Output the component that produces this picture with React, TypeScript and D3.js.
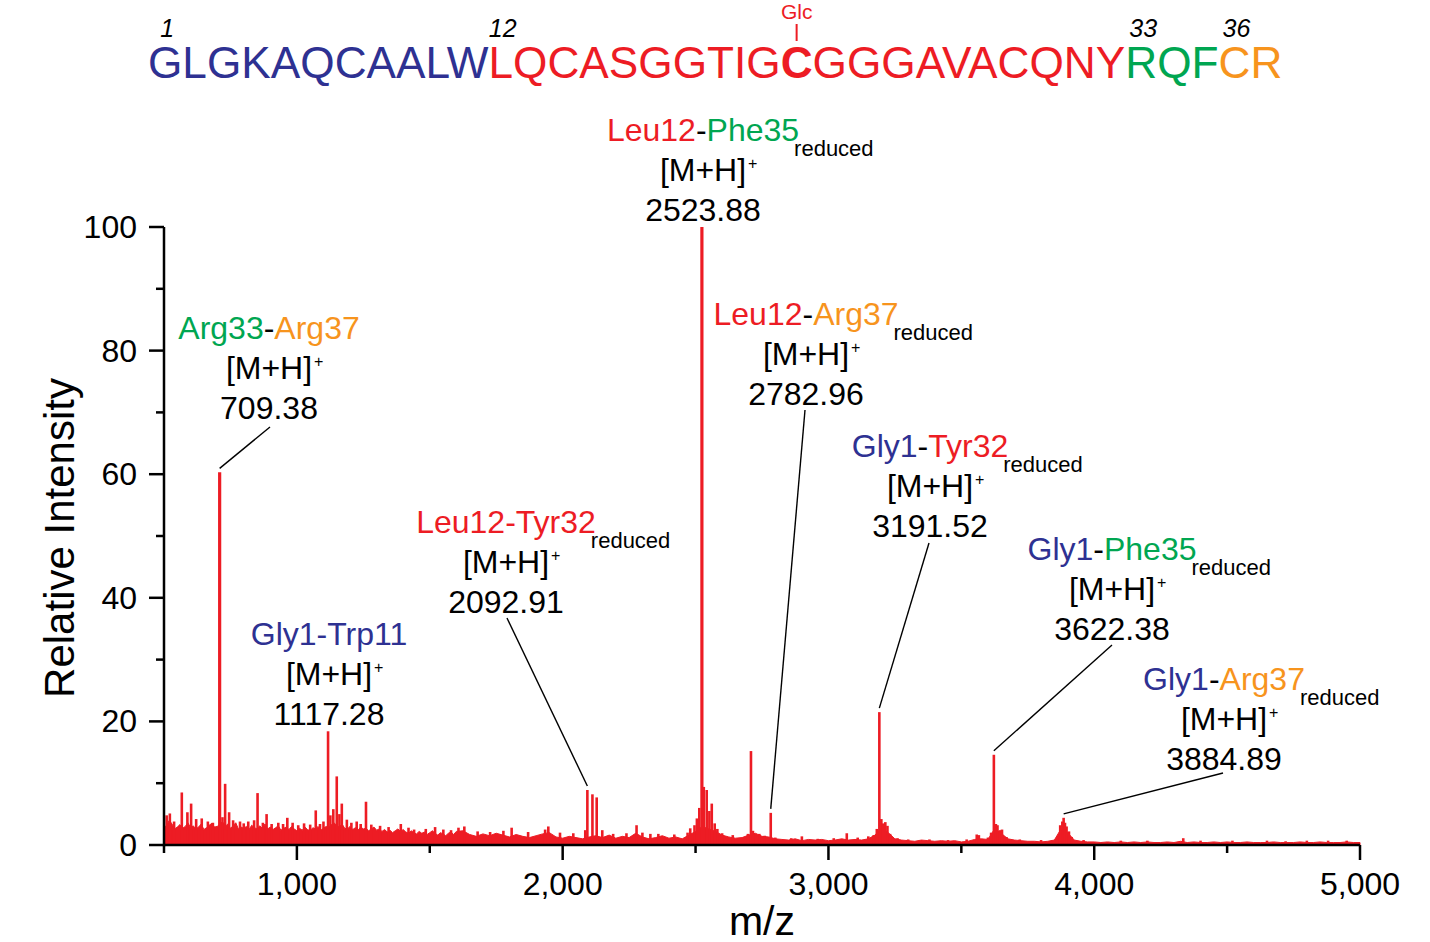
import React from 'react';
import * as d3 from 'd3';

const FONT = '"Liberation Sans", Arial, Helvetica, sans-serif';
const NAVY = '#2E3192';
const RED = '#ED1C24';
const GREEN = '#00A651';
const ORANGE = '#F7941D';
const BLACK = '#000000';

// ---------- axes ----------
const X_DOMAIN: [number, number] = [500, 5000];
const Y_DOMAIN: [number, number] = [0, 100];
const X_MAJOR_TICKS = [1000, 2000, 3000, 4000, 5000];
const X_MINOR_TICKS = [500, 1500, 2500, 3500, 4500];
const Y_MAJOR_TICKS = [0, 20, 40, 60, 80, 100];
const Y_MINOR_TICKS = [10, 30, 50, 70, 90];
const X_TITLE = 'm/z';
const Y_TITLE = 'Relative Intensity';

// ---------- spectrum: noise floor (regular m/z grid) ----------
const NOISE_A_START = 500;
const NOISE_A_STEP = 10;
const noiseA = [
  2.8, 3.2, 4.0, 3.4, 2.6, 2.9, 3.3, 2.7, 3.0, 3.6, 2.8,
  3.1, 2.6, 2.9, 3.4, 2.5, 2.8, 3.2, 3.5, 2.9, 3.0,
  3.3, 3.8, 3.0, 3.4, 2.7, 3.1, 3.6, 2.6, 2.9, 2.7,
  3.0, 2.5, 3.2, 2.8, 2.6, 3.1, 2.7, 3.4, 2.6, 2.9,
  2.5, 2.8, 3.1, 2.4, 2.7, 2.9, 2.5, 3.0, 2.6, 2.3,
  2.7, 2.4, 2.9, 2.5, 2.3, 2.8, 2.6, 3.0, 2.4, 2.7,
  3.0, 2.8, 3.3, 3.6, 3.1, 2.9, 3.4, 2.7, 2.6, 3.0,
  2.5, 2.8, 2.4, 2.9, 2.6, 2.7, 2.3, 2.6, 2.9, 2.4,
  2.6, 2.2, 2.5, 2.1, 2.4, 2.0, 2.3, 2.6, 2.2, 2.5,
  2.1, 1.9, 2.3, 2.0, 1.8, 2.2, 1.9, 2.1, 1.7, 2.0,
  2.3, 1.9, 1.6, 2.0, 1.8, 1.5, 1.9, 2.1, 1.7, 2.2,
];
const NOISE_B_START = 1625;
const NOISE_B_STEP = 25;
const noiseB = [
  2.3, 1.7, 1.4, 1.8, 1.5, 1.9,
  1.6, 1.3, 1.7, 1.4, 1.2, 1.5,
  1.8, 2.0, 1.3, 1.1, 1.4, 1.2,
  1.0, 1.3, 1.5, 1.2, 1.6, 1.1,
  1.4, 1.2, 1.9, 1.3, 1.0, 1.2,
  1.5, 1.1, 1.3, 1.0, 1.6, 2.2,
  3.0, 2.6, 2.2, 1.6, 1.3, 1.1,
  1.2, 1.6, 1.9, 1.4, 1.3, 1.0,
  0.9, 0.8, 1.0, 0.7, 0.9, 0.8,
  0.9, 0.7, 0.8, 1.0, 0.8, 0.9,
  0.8, 1.0, 1.6, 2.8, 2.0, 1.0,
  0.8, 0.7, 0.6, 0.8, 0.7, 0.6,
  0.7, 0.6, 0.7, 0.5, 0.6, 0.9,
  1.0, 0.9, 2.6, 1.9, 1.0, 0.8,
  0.7, 0.6, 0.6, 0.5, 0.6, 0.8,
  2.6, 2.0, 0.8, 0.6, 0.5, 0.5,
  0.4, 0.5, 0.4, 0.5, 0.4, 0.5,
  0.4, 0.5, 0.4, 0.4, 0.5, 0.4,
  0.6, 0.4, 0.5, 0.4, 0.4, 0.5,
  0.4, 0.5, 0.4, 0.4, 0.5, 0.4,
  0.4, 0.4, 0.5, 0.4, 0.4, 0.4,
  0.5, 0.4, 0.4, 0.5, 0.4, 0.4,
  0.4, 0.5, 0.4, 0.4,
];

// ---------- spectrum: peaks [m/z, relative intensity] ----------
const peaks: [number, number][] = [
  [510, 4.8], [522, 5.1], [538, 3.8], [567, 8.5], [588, 5.3], [602, 6.7], [621, 4.2], [642, 4.3],
  [665, 3.8], [684, 3.6], [709.4, 60.3], [720, 4.5], [730, 9.9], [745, 5.3], [760, 4.0], [786, 3.8],
  [800, 3.5], [817, 3.8], [839, 4.0], [852, 8.4], [872, 3.6], [886, 5.0], [905, 3.4], [930, 3.6],
  [948, 3.4], [964, 4.4], [984, 3.6], [1005, 3.2], [1027, 3.5], [1050, 3.3], [1071, 5.6], [1087, 3.4],
  [1100, 3.8], [1117.3, 18.4], [1126, 4.8], [1137, 5.8], [1150, 11.1], [1160, 5.0], [1169, 6.7],
  [1188, 4.1], [1205, 3.6], [1225, 3.8], [1240, 3.4], [1260, 7.0], [1280, 3.3], [1313, 3.1],
  [1345, 2.9], [1391, 3.4], [1420, 2.8], [1441, 2.5], [1485, 2.6], [1520, 2.9], [1551, 2.5],
  [1580, 2.4], [1608, 2.8], [1630, 3.0], [1680, 2.2], [1727, 2.1], [1777, 2.3], [1808, 2.8],
  [1870, 2.1], [1934, 2.5], [1946, 3.0], [1990, 2.0], [2040, 1.9], [2085, 2.4], [2092.9, 8.9],
  [2112, 8.2], [2128, 7.7], [2149, 2.4], [2190, 1.8], [2240, 1.9], [2278, 3.2], [2300, 2.0],
  [2330, 1.8], [2360, 1.8], [2420, 1.7], [2470, 2.0], [2480, 2.7], [2496, 3.2], [2505, 4.3],
  [2514, 6.0], [2523.9, 100], [2531, 9.4], [2542, 8.9], [2552, 5.5], [2561, 6.7], [2572, 3.5],
  [2582, 2.6], [2600, 1.9], [2640, 1.6], [2697, 1.8], [2708.5, 15.2], [2716, 2.3], [2740, 1.8],
  [2760, 1.5], [2782.9, 5.2], [2800, 1.2], [2860, 1.1], [2900, 1.4], [2960, 1.0], [3020, 1.1],
  [3069, 1.9], [3110, 1.2], [3150, 1.4], [3170, 1.6], [3182, 2.6], [3191.5, 21.5], [3199, 4.2],
  [3206, 3.5], [3214, 3.7], [3222, 3.1], [3232, 1.8], [3260, 1.1], [3300, 0.9], [3380, 0.9],
  [3450, 0.8], [3520, 0.9], [3558, 1.7], [3566, 1.6], [3600, 1.2], [3612, 2.0], [3622.4, 14.6],
  [3630, 3.4], [3636, 3.2], [3645, 2.4], [3653, 2.5], [3670, 1.3], [3720, 0.9], [3800, 0.8],
  [3860, 1.0], [3872, 3.2], [3880, 3.8], [3884.9, 4.4], [3890, 3.6], [3896, 3.0], [3905, 2.2],
  [3915, 1.3], [3960, 0.8], [4100, 0.7], [4200, 0.7], [4335, 1.1], [4400, 0.7], [4520, 0.7],
  [4650, 0.7], [4720, 0.6], [4800, 0.7], [4880, 0.7], [4950, 0.7],
];

// ---------- sequence header ----------
const seqSegments = [
  { text: 'GLGKAQCAALW', color: NAVY, bold: false },
  { text: 'LQCASGGTIG', color: RED, bold: false },
  { text: 'C', color: RED, bold: true },
  { text: 'GGGAVACQNY', color: RED, bold: false },
  { text: 'RQF', color: GREEN, bold: false },
  { text: 'CR', color: ORANGE, bold: false },
];
const residueNumbers = [1, 12, 33, 36];
const glycoResidue = 22;
const glycoLabel = 'Glc';

// ---------- annotations ----------
type Seg = [string, string];
const annNames: Seg[][] = [
  [['Arg33', GREEN], ['-', BLACK], ['Arg37', ORANGE]],
  [['Gly1-Trp11', NAVY]],
  [['Leu12-Tyr32', RED]],
  [['Leu12', RED], ['-', BLACK], ['Phe35', GREEN]],
  [['Leu12', RED], ['-', BLACK], ['Arg37', ORANGE]],
  [['Gly1', NAVY], ['-', BLACK], ['Tyr32', RED]],
  [['Gly1', NAVY], ['-', BLACK], ['Phe35', GREEN]],
  [['Gly1', NAVY], ['-', BLACK], ['Arg37', ORANGE]],
];
const annMass = ['709.38', '1117.28', '2092.91', '2523.88', '2782.96', '3191.52', '3622.38', '3884.89'];
const annPeakMz = [709.4, 1117.3, 2092.9, 2523.9, 2782.9, 3191.5, 3622.4, 3884.9];
const annReduced = [false, false, true, true, true, true, true, true];
const annIon = '[M+H]';
const annReducedText = 'reduced';

// layout (pixels): label centre x, first baseline y, leader start (or null)
const annLayout: { cx: number; by: number; leader: [number, number] | null }[] = [
  { cx: 269, by: 339, leader: [270, 427] },
  { cx: 329, by: 645, leader: null },
  { cx: 506, by: 533, leader: [507, 618] },
  { cx: 703, by: 141, leader: null },
  { cx: 806, by: 325, leader: [805, 410] },
  { cx: 930, by: 457, leader: [929, 543] },
  { cx: 1112, by: 560, leader: [1112, 645] },
  { cx: 1224, by: 690, leader: [1223, 773] },
];

// ---------- text measuring ----------
let _ctx: CanvasRenderingContext2D | null = null;
function tw(text: string, size: number, weight = 'normal', style = 'normal'): number {
  if (!_ctx) _ctx = document.createElement('canvas').getContext('2d');
  if (!_ctx) return text.length * size * 0.56;
  _ctx.font = `${style} ${weight} ${size}px ${FONT}`;
  return _ctx.measureText(text).width;
}

export default function App() {
  const W = 1430;
  const H = 942;
  const x = d3.scaleLinear().domain(X_DOMAIN).range([164, 1360]);
  const y = d3.scaleLinear().domain(Y_DOMAIN).range([845, 227]);

  const floorPts: [number, number][] = [
    ...noiseA.map((v, i) => [NOISE_A_START + i * NOISE_A_STEP, v] as [number, number]),
    ...noiseB.map((v, i) => [NOISE_B_START + i * NOISE_B_STEP, v] as [number, number]),
  ];
  const area = d3
    .area<[number, number]>()
    .x((d) => x(d[0]))
    .y0(y(0))
    .y1((d) => y(d[1]));

  const peakHeight = (mz: number) => {
    let best = peaks[0];
    for (const p of peaks) if (Math.abs(p[0] - mz) < Math.abs(best[0] - mz)) best = p;
    return best[1];
  };

  // sequence positions
  const SEQ_SIZE = 44.2;
  const SEQ_X = 148;
  const SEQ_Y = 78;
  const residueStarts: { start: number; width: number }[] = [];
  {
    let offset = SEQ_X;
    for (const seg of seqSegments) {
      const weight = seg.bold ? 'bold' : 'normal';
      for (let k = 0; k < seg.text.length; k++) {
        const pre = tw(seg.text.slice(0, k), SEQ_SIZE, weight);
        const w = tw(seg.text[k], SEQ_SIZE, weight);
        residueStarts.push({ start: offset + pre, width: w });
      }
      offset += tw(seg.text, SEQ_SIZE, weight);
    }
  }
  const glc = residueStarts[glycoResidue - 1];
  const glcX = glc.start + glc.width / 2;

  const ANN_SIZE = 32;

  return (
    <svg
      width={W}
      height={H}
      viewBox={`0 0 ${W} ${H}`}
      style={{ position: 'absolute', left: 0, top: 0, background: '#fff', fontFamily: FONT }}
    >
      <rect x={0} y={0} width={W} height={H} fill="#fff" />

      {/* sequence header */}
      <text x={SEQ_X} y={SEQ_Y} fontSize={SEQ_SIZE} fontFamily={FONT}>
        {seqSegments.map((s, i) => (
          <tspan key={i} fill={s.color} fontWeight={s.bold ? 'bold' : 'normal'}>
            {s.text}
          </tspan>
        ))}
      </text>
      {residueNumbers.map((n) => {
        const r = residueStarts[n - 1];
        return (
          <text
            key={n}
            x={r.start + r.width / 2 + 2}
            y={37}
            fontSize={25}
            fontStyle="italic"
            textAnchor="middle"
            fill={BLACK}
            fontFamily={FONT}
          >
            {n}
          </text>
        );
      })}
      <text x={glcX} y={19} fontSize={21} textAnchor="middle" fill={RED} fontFamily={FONT}>
        {glycoLabel}
      </text>
      <line x1={glcX} x2={glcX} y1={24} y2={41} stroke={RED} strokeWidth={2} />

      {/* spectrum */}
      <path d={area(floorPts) || ''} fill={RED} stroke={RED} strokeWidth={1} strokeLinejoin="round" />
      {peaks.map((p, i) => (
        <line
          key={i}
          x1={x(p[0])}
          x2={x(p[0])}
          y1={y(0)}
          y2={y(p[1])}
          stroke={RED}
          strokeWidth={p[1] > 50 ? 3.2 : 2.6}
        />
      ))}

      {/* axes */}
      <line x1={x(X_DOMAIN[0])} x2={x(X_DOMAIN[1])} y1={y(0)} y2={y(0)} stroke={BLACK} strokeWidth={2.5} />
      <line x1={x(X_DOMAIN[0])} x2={x(X_DOMAIN[0])} y1={y(0) + 1.25} y2={y(100)} stroke={BLACK} strokeWidth={2.5} />
      {X_MAJOR_TICKS.map((t) => (
        <g key={'xm' + t}>
          <line x1={x(t)} x2={x(t)} y1={y(0)} y2={y(0) + 15} stroke={BLACK} strokeWidth={2.5} />
          <text x={x(t)} y={895} fontSize={32} textAnchor="middle" fill={BLACK} fontFamily={FONT}>
            {d3.format(',')(t)}
          </text>
        </g>
      ))}
      {X_MINOR_TICKS.map((t) => (
        <line key={'xn' + t} x1={x(t)} x2={x(t)} y1={y(0)} y2={y(0) + 8} stroke={BLACK} strokeWidth={2.5} />
      ))}
      {Y_MAJOR_TICKS.map((t) => (
        <g key={'ym' + t}>
          <line x1={x(X_DOMAIN[0]) - 15} x2={x(X_DOMAIN[0])} y1={y(t)} y2={y(t)} stroke={BLACK} strokeWidth={2.5} />
          <text x={137} y={y(t) + 11} fontSize={32} textAnchor="end" fill={BLACK} fontFamily={FONT}>
            {t}
          </text>
        </g>
      ))}
      {Y_MINOR_TICKS.map((t) => (
        <line key={'yn' + t} x1={x(X_DOMAIN[0]) - 8} x2={x(X_DOMAIN[0])} y1={y(t)} y2={y(t)} stroke={BLACK} strokeWidth={2.5} />
      ))}
      <text
        transform={`translate(74, ${(y(0) + y(100)) / 2 + 2}) rotate(-90)`}
        fontSize={42}
        textAnchor="middle"
        fill={BLACK}
        fontFamily={FONT}
      >
        {Y_TITLE}
      </text>
      <text x={(x(X_DOMAIN[0]) + x(X_DOMAIN[1])) / 2} y={935} fontSize={41} textAnchor="middle" fill={BLACK} fontFamily={FONT}>
        {X_TITLE}
      </text>

      {/* annotations */}
      {annNames.map((segs, i) => {
        const L = annLayout[i];
        const nameW = segs.reduce((s, sg) => s + tw(sg[0], ANN_SIZE), 0);
        const ionW = tw(annIon, ANN_SIZE);
        const px = x(annPeakMz[i]);
        const py = y(peakHeight(annPeakMz[i])) - 4;
        return (
          <g key={'ann' + i} fontFamily={FONT}>
            <text x={L.cx - nameW / 2} y={L.by} fontSize={ANN_SIZE}>
              {segs.map((sg, k) => (
                <tspan key={k} fill={sg[1]}>
                  {sg[0]}
                </tspan>
              ))}
            </text>
            {annReduced[i] && (
              <text x={L.cx + nameW / 2 - 5} y={L.by + 15} fontSize={22} fill={BLACK}>
                {annReducedText}
              </text>
            )}
            <text x={L.cx} y={L.by + 40} fontSize={ANN_SIZE} textAnchor="middle" fill={BLACK}>
              {annIon}
            </text>
            <text x={L.cx + ionW / 2 + 2} y={L.by + 28} fontSize={16} fill={BLACK}>
              +
            </text>
            <text x={L.cx} y={L.by + 80} fontSize={ANN_SIZE} textAnchor="middle" fill={BLACK}>
              {annMass[i]}
            </text>
            {L.leader && (
              <line x1={L.leader[0]} y1={L.leader[1]} x2={px} y2={py} stroke={BLACK} strokeWidth={1.4} />
            )}
          </g>
        );
      })}
    </svg>
  );
}
